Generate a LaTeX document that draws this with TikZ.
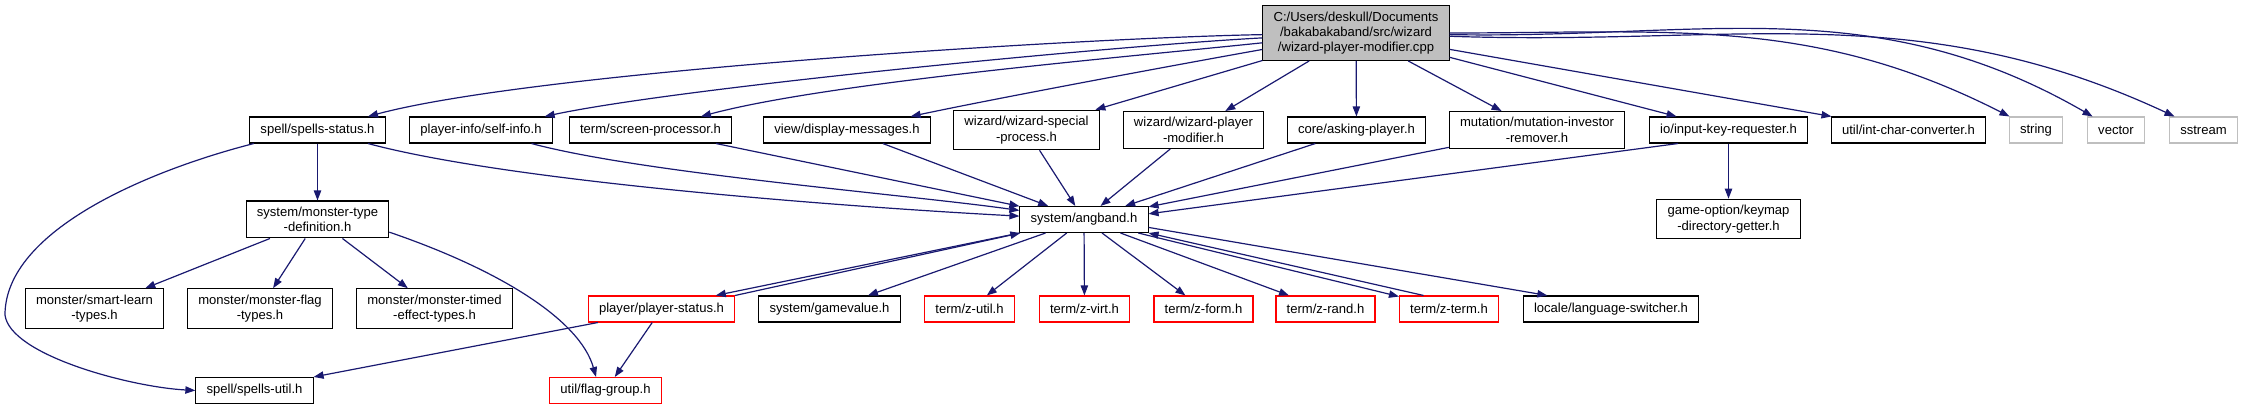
\documentclass[tikz,border=0pt]{standalone}
\usepackage{fontspec}
\setmainfont{Liberation Sans}
\usetikzlibrary{arrows.meta}
\definecolor{edgeblue}{RGB}{25,25,112}
\definecolor{nodegray}{RGB}{191,191,191}
\definecolor{extred}{RGB}{255,0,0}

\begin{document}
\begin{tikzpicture}[x=0.75pt, y=-0.75pt,
      >={Stealth[inset=0pt, length=7.5pt, width=5.5pt]},
      font=\fontsize{9.8}{11.5}\selectfont,
      box/.style={draw=black, line width=0.8pt, fill=white, align=center,
                  inner xsep=8pt, inner ysep=4.5pt, minimum height=19.5pt},
      redbox/.style={box, draw=extred},
      sysbox/.style={box, draw=nodegray},
      arr/.style={->, draw=edgeblue, line width=0.9pt}
    ]
    \useasboundingbox (0,0) rectangle (2243,409);

    % the source file
    \node[box, fill=nodegray] (main) at (1356,33)
          {C:/Users/deskull/Documents\\/bakabakaband/src/wizard\\/wizard-player-modifier.cpp};

    % direct includes
    \node[box] (sstat) at (317.5,130) {spell/spells-status.h};
    \node[box] (sinfo) at (481,130) {player-info/self-info.h};
    \node[box] (scrp) at (650.5,130) {term/screen-processor.h};
    \node[box] (dmsg) at (847,130) {view/display-messages.h};
    \node[box] (wsp) at (1026.5,130) {wizard/wizard-special\\-process.h};
    \node[box] (wpm) at (1193.5,130) {wizard/wizard-player\\-modifier.h};
    \node[box] (ask) at (1356.5,130) {core/asking-player.h};
    \node[box] (mut) at (1537,130) {mutation/mutation-investor\\-remover.h};
    \node[box] (ikr) at (1728.5,130) {io/input-key-requester.h};
    \node[box] (icc) at (1908.5,130) {util/int-char-converter.h};
    \node[sysbox] (str) at (2036,130) {string};
    \node[sysbox] (vec) at (2116,130) {vector};
    \node[sysbox] (sst) at (2203.5,130) {sstream};

    % second level
    \node[box] (mtd) at (317.5,219.5) {system/monster-type\\-definition.h};
    \node[box] (ang) at (1084,219.5) {system/angband.h};
    \node[box] (kmd) at (1728.5,219) {game-option/keymap\\-directory-getter.h};

    % third level
    \node[box] (msl) at (94.5,308.5) {monster/smart-learn\\-types.h};
    \node[box] (mft) at (260,308.5) {monster/monster-flag\\-types.h};
    \node[box] (mte) at (434.5,308.5) {monster/monster-timed\\-effect-types.h};
    \node[redbox] (pst) at (661.5,309) {player/player-status.h};
    \node[box] (gv) at (829.5,309) {system/gamevalue.h};
    \node[redbox] (zu) at (969.5,309) {term/z-util.h};
    \node[redbox] (zv) at (1084.5,309) {term/z-virt.h};
    \node[redbox] (zf) at (1203.5,309) {term/z-form.h};
    \node[redbox] (zr) at (1325.5,309) {term/z-rand.h};
    \node[redbox] (zt) at (1449,309) {term/z-term.h};
    \node[box] (ls) at (1611,309) {locale/language-switcher.h};

    % bottom
    \node[box] (sut) at (254.5,390.5) {spell/spells-util.h};
    \node[redbox] (fg) at (605.5,390.5) {util/flag-group.h};

    % edges out of the source file
    \draw[arr] (main) to[out=181, in=15, looseness=0.5] (sstat);
    \draw[arr] (main) to[out=183, in=12, looseness=0.5] (sinfo);
    \draw[arr] (main) to[out=186, in=15, looseness=0.6] (scrp);
    \draw[arr] (main) to[out=190, in=12, looseness=0.6] (dmsg);
    \foreach \n in {wsp,wpm,ask,mut,ikr,icc}{ \draw[arr] (main) -- (\n); }
    \draw[arr] (main) to[out=0, in=153] (str);
    \draw[arr] (main) to[out=-1, in=150] (vec);
    \draw[arr] (main) to[out=-2, in=155] (sst);

    % into angband.h
    \draw[arr] (sstat) to[out=-15, in=177, looseness=0.6] (ang);
    \draw[arr] (sinfo) to[out=-15, in=172, looseness=0.6] (ang);
    \foreach \n in {scrp,dmsg,wsp,wpm,ask,mut}{ \draw[arr] (\n) -- (ang); }
    \draw[arr] (ikr.195) -- (ang.5);

    \draw[arr] (sstat) -- (mtd);
    \draw[arr] (sstat.192) .. controls (150,170) and (5,230) .. (5,315)
               .. controls (10,355) and (130,387) .. (sut.west);
    \draw[arr] (ikr) -- (kmd);

    \foreach \n in {msl,mft,mte}{ \draw[arr] (mtd) -- (\n); }
    \draw[arr] (mtd.-10) .. controls (500,270) and (580,320) .. (fg.125);

    % out of angband.h
    \draw[arr] (ang.south west) -- (pst.14);
    \draw[arr] (pst.north east) -- (ang.192);
    \foreach \n in {gv,zu,zv,zf,zr}{ \draw[arr] (ang) -- (\n); }
    \draw[arr] (ang.-14) -- (zt.166);
    \draw[arr] (zt.152) -- (ang.south east);
    \draw[arr] (ang.-7) -- (ls.168);

    \draw[arr] (pst.192) -- (sut.north east);
    \draw[arr] (pst) -- (fg);
  \end{tikzpicture}
\end{document}
